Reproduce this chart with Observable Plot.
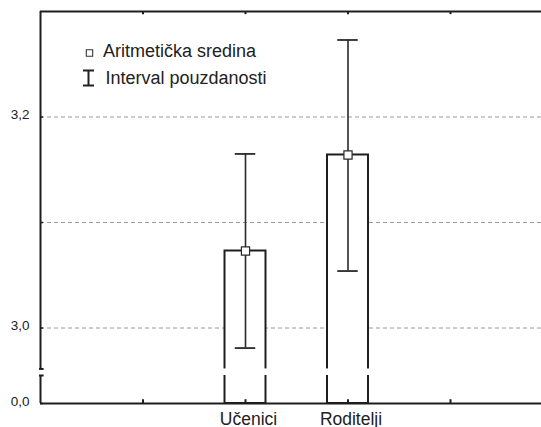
<!DOCTYPE html>
<html>
<head>
<meta charset="utf-8">
<script src="https://cdn.jsdelivr.net/npm/d3@7"></script>
<script src="https://cdn.jsdelivr.net/npm/@observablehq/plot@0.6"></script>
<style>
  html, body { margin: 0; padding: 0; background: #fff; }
  #chart { width: 541px; height: 427px; overflow: hidden; }
</style>
</head>
<body>
<div id="chart"></div>
<script>
// ---- data ----
const categories = ["Učenici", "Roditelji"];
const categoryPositions = [2, 3];
const means = [3.073, 3.164];
const ciLow = [2.981, 3.054];
const ciHigh = [3.165, 3.273];
const yTickValues = [0, 3.0, 3.2];
const yTickLabels = ["0,0", "3,0", "3,2"];
const gridValues = [3.0, 3.1, 3.2];
const xTickValues = [1, 2, 3, 4];
const legendLabels = ["Aritmetička sredina", "Interval pouzdanosti"];
const yTop = 3.3;
const yBreak = [2.955, 2.9612];

const rows = categories.map((c, i) => ({
  cat: c, x: categoryPositions[i], mean: means[i], lo: ciLow[i], hi: ciHigh[i]
}));

const font = "'Liberation Sans', Arial, Helvetica, sans-serif";
const dark = "#1e1e1e";
const halfBar = 0.2;
const halfCap = 0.1;

// I-beam symbol for the legend
const ibeam = {
  draw(ctx, size) {
    const h = 7.5, w = 5.5;
    ctx.moveTo(-w, -h); ctx.lineTo(w, -h);
    ctx.moveTo(0, -h); ctx.lineTo(0, h);
    ctx.moveTo(-w, h); ctx.lineTo(w, h);
  }
};

const chart = Plot.plot({
  width: 541,
  height: 427,
  marginLeft: 40,
  marginTop: 11,
  marginBottom: 24,
  marginRight: 0,
  style: { fontFamily: font, background: "#fff", overflow: "hidden" },
  x: { type: "linear", domain: [0, 5], range: [40, 552.5], axis: null },
  y: { type: "linear", domain: [0, yBreak[0], yTop], range: [403, 375, 11], axis: null },
  marks: [
    // dashed gridlines
    Plot.ruleY(gridValues, { y: d => d, x1: 0, x2: 5, stroke: "#9a9a9a", strokeWidth: 1, strokeDasharray: "4,3" }),
    // frame lines
    Plot.ruleX([0], { x: d => d, y1: 0, y2: yTop, stroke: dark, strokeWidth: 2 }),
    Plot.ruleY([yTop], { y: d => d, x1: 0, x2: 5, stroke: dark, strokeWidth: 2 }),
    // bars
    Plot.rect(rows, { x1: d => d.x - halfBar, x2: d => d.x + halfBar, y1: 0, y2: "mean", fill: "white", stroke: dark, strokeWidth: 2 }),
    // axis break
    Plot.rect([yBreak], { x1: 0, x2: 5, y1: d => d[0], y2: d => d[1], fill: "white", insetLeft: -4 }),
    Plot.ruleY(yBreak, { y: d => d, x1: 0, x2: 0.045, stroke: dark, strokeWidth: 2, dx: -1 }),
    // bottom axis line
    Plot.ruleY([0], { y: d => d, x1: 0, x2: 5, stroke: dark, strokeWidth: 2 }),
    // x ticks (inward, bottom and top)
    Plot.ruleX(xTickValues, { x: d => d, y1: 0, y2: 0.4, stroke: dark, strokeWidth: 2 }),
    Plot.ruleX(xTickValues, { x: d => d, y1: yTop, y2: yTop - 0.003, stroke: dark, strokeWidth: 2 }),
    // y ticks (inward)
    Plot.ruleY(yTickValues.concat([3.1]), { y: d => d, x1: 0, x2: 0.03, stroke: dark, strokeWidth: 1.5 }),
    // confidence intervals
    Plot.ruleX(rows, { x: "x", y1: "lo", y2: "hi", stroke: "#2a2a2a", strokeWidth: 1.6 }),
    Plot.ruleY(rows, { y: "lo", x1: d => d.x - halfCap, x2: d => d.x + halfCap, stroke: "#2a2a2a", strokeWidth: 1.8 }),
    Plot.ruleY(rows, { y: "hi", x1: d => d.x - halfCap, x2: d => d.x + halfCap, stroke: "#2a2a2a", strokeWidth: 1.8 }),
    // means
    Plot.dot(rows, { x: "x", y: "mean", symbol: "square", r: 4.6, fill: "white", stroke: "#2a2a2a", strokeWidth: 1.2 }),
    // y tick labels
    Plot.text(yTickValues, { x: 0, y: d => d, text: (d, i) => yTickLabels[i], textAnchor: "end", dx: -11, dy: -2, fontSize: 13.5, fill: "#222" }),
    // x labels
    Plot.text(rows, { x: "x", y: 0, text: "cat", lineAnchor: "top", dy: 9, dx: 3, fontSize: 17.5, fill: "#222" }),
    // legend
    Plot.dot([legendLabels[0]], { frameAnchor: "top-left", dx: 49, dy: 41.5, symbol: "square", r: 3.6, fill: "white", stroke: "#333", strokeWidth: 1.1 }),
    Plot.dot([legendLabels[1]], { frameAnchor: "top-left", dx: 48, dy: 66.5, symbol: ibeam, r: 5, fill: "none", stroke: "#222", strokeWidth: 2 }),
    Plot.text([legendLabels[0]], { frameAnchor: "top-left", text: d => d, textAnchor: "start", lineAnchor: "bottom", dx: 62.5, dy: 45.7, fontSize: 18, fill: "#222" }),
    Plot.text([legendLabels[1]], { frameAnchor: "top-left", text: d => d, textAnchor: "start", lineAnchor: "bottom", dx: 65, dy: 72, fontSize: 18, fill: "#222" })
  ]
});

document.getElementById("chart").appendChild(chart);
</script>
</body>
</html>
